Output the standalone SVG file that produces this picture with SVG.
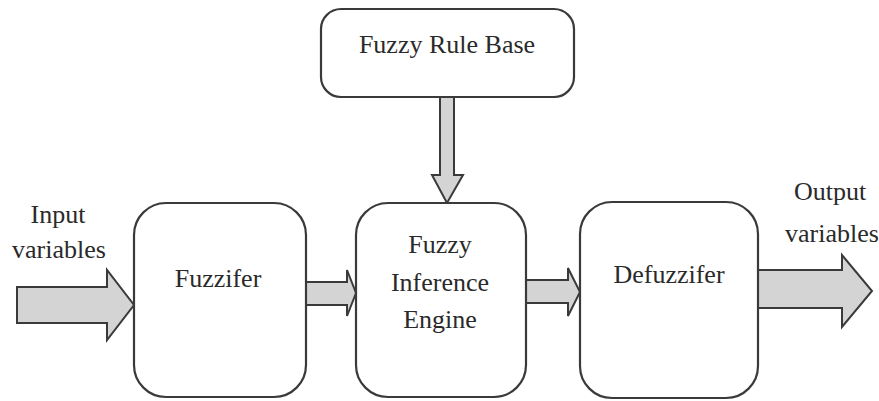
<svg xmlns="http://www.w3.org/2000/svg" width="879" height="401" viewBox="0 0 879 401">
<style>
.box{fill:#fff;stroke:#3a3a3a;stroke-width:2.2}
.arr{fill:#d4d4d4;stroke:#3a3a3a;stroke-width:2}
.t{font-size:26px;fill:#2a2a2a;text-anchor:middle}
</style>
<rect width="879" height="401" fill="#fff"/>
<g id="connectors">
<polygon class="arr" points="17,287 107,287 107,270 134,305 107,340 107,323 17,323"/>
<polygon class="arr" points="306,282 347,282 347,270 356,293 347,316 347,305 306,305"/>
<polygon class="arr" points="526,280 568,280 568,268 580,292 568,316 568,303 526,303"/>
<polygon class="arr" points="758,270 842,270 842,255 872,291 842,327 842,308 758,308"/>
<polygon class="arr" points="440,97 454,97 454,175 463,175 447,203 432,175 440,175"/>
</g>
<g font-family="Times New Roman, Liberation Serif, serif">
<g id="input-label">
<text class="t" x="58" y="223">Input</text>
<text class="t" x="59" y="258">variables</text>
</g>
<g id="rule-base">
<rect class="box" x="321" y="9" width="253" height="88" rx="20"/>
<text class="t" x="447" y="53">Fuzzy Rule Base</text>
</g>
<g id="fuzzifier">
<rect class="box" x="134" y="203" width="172" height="194" rx="32"/>
<text class="t" x="218" y="287">Fuzzifer</text>
</g>
<g id="inference-engine">
<rect class="box" x="356" y="203" width="170" height="194" rx="32"/>
<text class="t" x="440" y="253">Fuzzy</text>
<text class="t" x="440" y="291">Inference</text>
<text class="t" x="440" y="328">Engine</text>
</g>
<g id="defuzzifier">
<rect class="box" x="580" y="202" width="178" height="196" rx="32"/>
<text class="t" x="669" y="283">Defuzzifer</text>
</g>
<g id="output-label">
<text class="t" x="830" y="200">Output</text>
<text class="t" x="832" y="242">variables</text>
</g>
</g>
</svg>
